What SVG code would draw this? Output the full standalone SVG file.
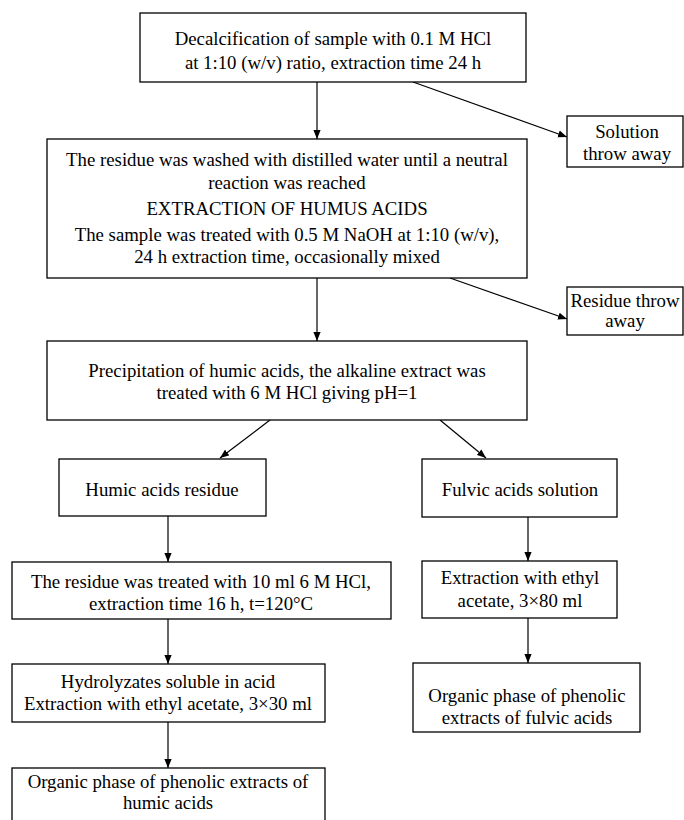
<svg xmlns="http://www.w3.org/2000/svg" width="684" height="820" viewBox="0 0 684 820">
<defs>
<marker id="arr" viewBox="0 0 10 8" refX="10" refY="4" markerWidth="9" markerHeight="8" markerUnits="userSpaceOnUse" orient="auto">
<path d="M0,0 L10,4 L0,8 z" fill="#000"/>
</marker>
<style>
.box{fill:#fff;stroke:#000;stroke-width:1.3}
.t{font-family:"Liberation Serif","Times New Roman",serif;font-size:18.8px;fill:#000;text-anchor:middle}
.c{stroke:#000;stroke-width:1.2;fill:none;marker-end:url(#arr)}
</style>
</defs>
<rect width="684" height="820" fill="#fff"/>
<g id="connectors">
<line class="c" x1="317" y1="82" x2="317" y2="139"/>
<line class="c" x1="413" y1="82" x2="567" y2="137"/>
<line class="c" x1="317" y1="278" x2="317" y2="341"/>
<line class="c" x1="450" y1="278" x2="567" y2="319"/>
<line class="c" x1="270" y1="420" x2="220" y2="458"/>
<line class="c" x1="440" y1="420" x2="486" y2="458"/>
<line class="c" x1="168" y1="516" x2="168" y2="562"/>
<line class="c" x1="528" y1="517" x2="528" y2="561"/>
<line class="c" x1="168" y1="619" x2="168" y2="664"/>
<line class="c" x1="528" y1="618" x2="528" y2="663"/>
<line class="c" x1="168" y1="722" x2="168" y2="768"/>
</g>
<g id="decalcification">
<rect class="box" x="140" y="13" width="386" height="69"/>
<text class="t" x="333" y="45">Decalcification of sample with 0.1 M HCl</text>
<text class="t" x="333" y="69">at 1:10 (w/v) ratio, extraction time 24 h</text>
</g>
<g id="solution-throw">
<rect class="box" x="567" y="116" width="116" height="51"/>
<text class="t" x="627" y="138">Solution</text>
<text class="t" x="627" y="160">throw away</text>
</g>
<g id="extraction">
<rect class="box" x="47" y="139" width="480" height="139"/>
<text class="t" x="287" y="166">The residue was washed with distilled water until a neutral</text>
<text class="t" x="287" y="189">reaction was reached</text>
<text class="t" x="287" y="215">EXTRACTION OF HUMUS ACIDS</text>
<text class="t" x="287" y="241">The sample was treated with 0.5 M NaOH at 1:10 (w/v),</text>
<text class="t" x="287" y="263">24 h extraction time, occasionally mixed</text>
</g>
<g id="residue-throw">
<rect class="box" x="567" y="287" width="116" height="48"/>
<text class="t" x="625" y="307">Residue throw</text>
<text class="t" x="625" y="327">away</text>
</g>
<g id="precipitation">
<rect class="box" x="47" y="341" width="480" height="79"/>
<text class="t" x="287" y="377">Precipitation of humic acids, the alkaline extract was</text>
<text class="t" x="287" y="399">treated with 6 M HCl giving pH=1</text>
</g>
<g id="humic-residue">
<rect class="box" x="59" y="459" width="207" height="57"/>
<text class="t" x="162" y="496">Humic acids residue</text>
</g>
<g id="fulvic-solution">
<rect class="box" x="422" y="459" width="195" height="58"/>
<text class="t" x="520" y="496">Fulvic acids solution</text>
</g>
<g id="hcl-treatment">
<rect class="box" x="12" y="562" width="379" height="57"/>
<text class="t" x="201" y="588">The residue was treated with 10 ml 6 M HCl,</text>
<text class="t" x="201" y="610">extraction time 16 h, t=120°C</text>
</g>
<g id="fulvic-extraction">
<rect class="box" x="422" y="561" width="195" height="57"/>
<text class="t" x="520" y="584">Extraction with ethyl</text>
<text class="t" x="520" y="607">acetate, 3×80 ml</text>
</g>
<g id="hydrolyzates">
<rect class="box" x="12" y="664" width="313" height="58"/>
<text class="t" x="168" y="688">Hydrolyzates soluble in acid</text>
<text class="t" x="168" y="710">Extraction with ethyl acetate, 3×30 ml</text>
</g>
<g id="fulvic-organic">
<rect class="box" x="413" y="663" width="227" height="69"/>
<text class="t" x="527" y="702">Organic phase of phenolic</text>
<text class="t" x="527" y="724">extracts of fulvic acids</text>
</g>
<g id="humic-organic">
<rect class="box" x="12" y="768" width="313" height="60"/>
<text class="t" x="168" y="788">Organic phase of phenolic extracts of</text>
<text class="t" x="168" y="809">humic acids</text>
</g>
</svg>
